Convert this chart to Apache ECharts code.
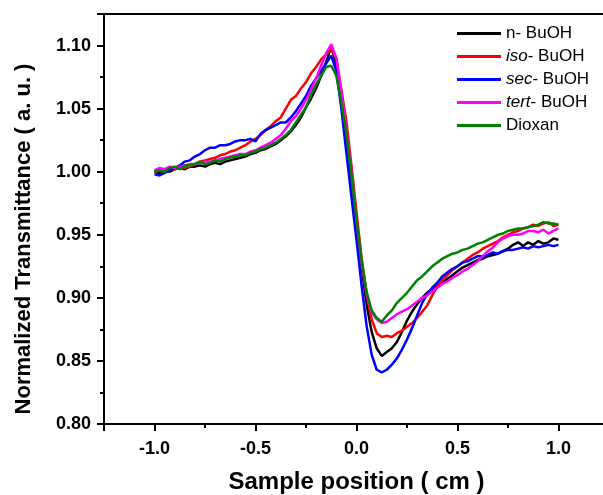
<!DOCTYPE html>
<html><head><meta charset="utf-8">
<script src="https://cdn.jsdelivr.net/npm/echarts@6/dist/echarts.min.js"></script>
<style>html,body{margin:0;padding:0;background:#fff}#c{width:603px;height:495px}</style>
</head><body><div id="c"></div>
<script>
// x positions (cm), step 0.025 from -1 to 1
const xPos = [-1.000,-0.975,-0.950,-0.925,-0.900,-0.875,-0.850,-0.825,-0.800,-0.775,-0.750,-0.725,-0.700,-0.675,-0.650,-0.625,-0.600,-0.575,-0.550,-0.525,-0.500,-0.475,-0.450,-0.425,-0.400,-0.375,-0.350,-0.325,-0.300,-0.275,-0.250,-0.225,-0.200,-0.175,-0.150,-0.125,-0.100,-0.075,-0.050,-0.025,0.000,0.025,0.050,0.075,0.100,0.125,0.150,0.175,0.200,0.225,0.250,0.275,0.300,0.325,0.350,0.375,0.400,0.425,0.450,0.475,0.500,0.525,0.550,0.575,0.600,0.625,0.650,0.675,0.700,0.725,0.750,0.775,0.800,0.825,0.850,0.875,0.900,0.925,0.950,0.975,1.000];

const nBuOH = [1.000,0.999,1.001,1.000,1.002,1.003,1.002,1.004,1.004,1.005,1.004,1.006,1.007,1.006,1.008,1.009,1.010,1.011,1.012,1.014,1.015,1.017,1.018,1.020,1.022,1.025,1.028,1.032,1.037,1.043,1.051,1.058,1.066,1.076,1.087,1.099,1.085,1.058,1.030,0.995,0.958,0.925,0.895,0.873,0.860,0.854,0.857,0.860,0.865,0.873,0.882,0.889,0.895,0.900,0.904,0.907,0.910,0.912,0.915,0.918,0.921,0.924,0.926,0.928,0.930,0.931,0.933,0.934,0.935,0.937,0.939,0.942,0.944,0.941,0.944,0.942,0.945,0.943,0.944,0.947,0.946];

const isoBuOH = [1.000,1.001,1.000,1.002,1.002,1.003,1.003,1.004,1.006,1.008,1.009,1.010,1.011,1.013,1.014,1.016,1.017,1.019,1.021,1.024,1.026,1.029,1.033,1.036,1.040,1.043,1.050,1.057,1.060,1.066,1.071,1.078,1.083,1.089,1.093,1.098,1.090,1.065,1.040,1.005,0.968,0.932,0.903,0.883,0.872,0.869,0.870,0.869,0.872,0.874,0.877,0.880,0.884,0.889,0.894,0.902,0.909,0.914,0.918,0.922,0.925,0.928,0.931,0.934,0.936,0.939,0.941,0.943,0.945,0.948,0.950,0.952,0.953,0.955,0.956,0.958,0.957,0.959,0.960,0.957,0.958];

const secBuOH = [0.998,0.997,0.999,1.001,1.003,1.005,1.008,1.009,1.012,1.014,1.017,1.019,1.019,1.021,1.021,1.022,1.024,1.025,1.025,1.026,1.024,1.030,1.033,1.035,1.037,1.039,1.039,1.043,1.048,1.054,1.060,1.068,1.074,1.080,1.086,1.092,1.080,1.050,1.015,0.980,0.946,0.910,0.878,0.855,0.843,0.841,0.843,0.847,0.852,0.859,0.867,0.876,0.886,0.896,0.903,0.908,0.912,0.917,0.920,0.923,0.925,0.928,0.929,0.931,0.933,0.933,0.934,0.936,0.935,0.937,0.938,0.938,0.939,0.940,0.939,0.941,0.940,0.941,0.942,0.941,0.942];

const tertBuOH = [1.001,1.003,1.002,1.004,1.003,1.004,1.005,1.006,1.006,1.007,1.008,1.008,1.009,1.010,1.011,1.012,1.013,1.014,1.014,1.016,1.017,1.019,1.021,1.023,1.026,1.029,1.034,1.040,1.044,1.050,1.057,1.065,1.074,1.084,1.094,1.101,1.090,1.063,1.033,1.000,0.962,0.928,0.903,0.889,0.883,0.880,0.881,0.884,0.887,0.889,0.891,0.894,0.897,0.900,0.902,0.905,0.908,0.911,0.913,0.916,0.918,0.921,0.923,0.926,0.929,0.933,0.937,0.940,0.944,0.947,0.949,0.950,0.950,0.951,0.953,0.953,0.952,0.954,0.951,0.953,0.955];

const dioxan = [1.000,1.001,1.000,1.003,1.004,1.002,1.005,1.005,1.006,1.008,1.006,1.007,1.009,1.008,1.010,1.011,1.012,1.013,1.013,1.015,1.016,1.018,1.019,1.021,1.023,1.026,1.029,1.033,1.039,1.045,1.051,1.061,1.069,1.076,1.083,1.084,1.076,1.055,1.030,0.998,0.962,0.930,0.905,0.890,0.884,0.881,0.886,0.890,0.896,0.900,0.904,0.909,0.914,0.917,0.921,0.925,0.928,0.931,0.933,0.935,0.936,0.938,0.939,0.941,0.943,0.944,0.946,0.948,0.950,0.951,0.953,0.954,0.955,0.955,0.956,0.957,0.958,0.960,0.959,0.959,0.958];

const seriesNames = ['n- BuOH','iso- BuOH','sec- BuOH','tert- BuOH','Dioxan'];
const seriesColors = ['#000000','#ff0000','#0000ff','#ff00ff','#008000'];
const seriesValues = [nBuOH, isoBuOH, secBuOH, tertBuOH, dioxan];
const italicPrefix = {'iso- BuOH':'iso','sec- BuOH':'sec','tert- BuOH':'tert'};

const FONT = '"Liberation Sans", Arial, sans-serif';
const chart = echarts.init(document.getElementById('c'), null, {renderer:'canvas'});
chart.setOption({
  animation: false,
  backgroundColor: '#ffffff',
  grid: {left: 104, top: 14, width: 505, height: 410, outerBoundsMode: 'none', containLabel: false,
         show: true, borderColor: '#000', borderWidth: 2, backgroundColor: 'transparent'},
  legend: {
    left: 452, top: 20, orient: 'vertical', itemWidth: 44, itemHeight: 17, itemGap: 6,
    icon: 'path://M0,0H44V3H0Z',
    data: seriesNames,
    textStyle: {fontFamily: FONT, fontSize: 17, color: '#000', rich: {i: {fontFamily: FONT, fontSize: 17, fontStyle: 'italic', color: '#000'}}},
    formatter: function(name){
      const p = italicPrefix[name];
      if (!p) return name;
      return '{i|' + p + '}' + name.slice(p.length);
    }
  },
  xAxis: {
    type: 'value', min: -1.25, max: 1.25,
    name: 'Sample position ( cm )', nameLocation: 'middle', nameGap: 46,
    nameTextStyle: {fontFamily: FONT, fontSize: 24, fontWeight: 'bold', color: '#000'},
    axisLine: {show: true, onZero: false, lineStyle: {color: '#000', width: 2}},
    axisTick: {show: true, length: 7, lineStyle: {color: '#000', width: 2}},
    minorTick: {show: true, splitNumber: 2, length: 4, lineStyle: {color: '#000', width: 2}},
    splitLine: {show: false},
    axisLabel: {showMinLabel: false, showMaxLabel: false, margin: 16, fontFamily: FONT, fontSize: 18, fontWeight: 'bold', color: '#000', formatter: v => v.toFixed(1)}
  },
  yAxis: {
    type: 'value', min: 0.80, max: 1.125,
    name: 'Normalized Transmittance ( a. u. )', nameLocation: 'middle', nameGap: 69,
    nameTextStyle: {fontFamily: FONT, fontSize: 22, fontWeight: 'bold', color: '#000', padding: [0, 40, 0, 0]},
    axisLine: {show: true, onZero: false, lineStyle: {color: '#000', width: 2}},
    axisTick: {show: true, length: 7, lineStyle: {color: '#000', width: 2}},
    minorTick: {show: true, splitNumber: 2, length: 4, lineStyle: {color: '#000', width: 2}},
    splitLine: {show: false},
    axisLabel: {showMaxLabel: false, margin: 13, fontFamily: FONT, fontSize: 18, fontWeight: 'bold', color: '#000', formatter: v => v.toFixed(2)}
  },
  series: seriesNames.map((n, k) => ({
    name: n, type: 'line', symbol: 'none', showSymbol: false,
    data: xPos.map((x, i) => [x, seriesValues[k][i]]),
    lineStyle: {color: seriesColors[k], width: 2.5},
    itemStyle: {color: seriesColors[k]}
  }))
});
</script></body></html>
